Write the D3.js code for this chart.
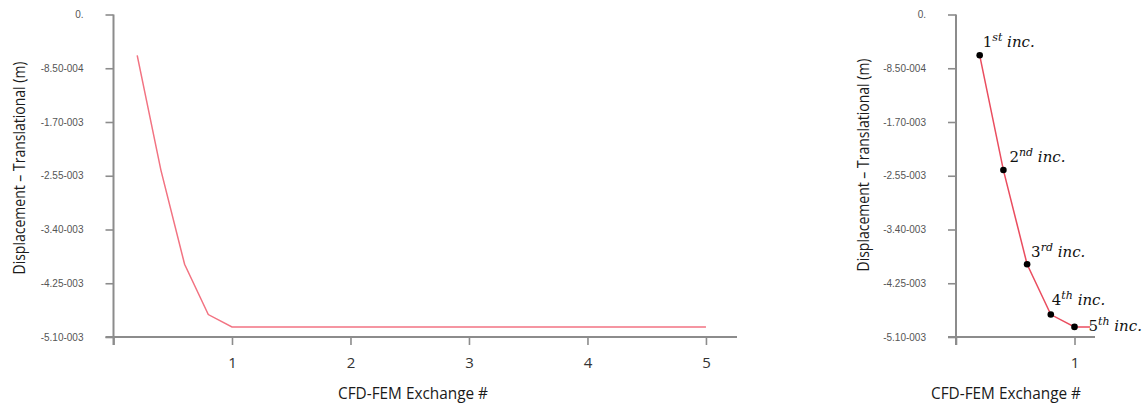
<!DOCTYPE html>
<html>
<head>
<meta charset="utf-8">
<script src="https://cdn.jsdelivr.net/npm/d3@7"></script>
<style>
  html, body { margin: 0; padding: 0; background: #fff; }
  svg { display: block; }
</style>
</head>
<body>
<svg id="chart" width="1143" height="405"></svg>
<script>
// Exchange number and translational displacement (m)
const exchange = [0.2, 0.4, 0.6, 0.8, 1, 2, 3, 4, 5];
const displacement = [-6.45e-4, -2.46e-3, -3.95e-3, -4.745e-3, -4.94e-3, -4.94e-3, -4.94e-3, -4.94e-3, -4.94e-3];

// y-axis tick values and their printed labels
const yTickValues = [0, -8.5e-4, -1.7e-3, -2.55e-3, -3.4e-3, -4.25e-3, -5.1e-3];
const yTickLabels = ["0.", "-8.50-004", "-1.70-003", "-2.55-003", "-3.40-003", "-4.25-003", "-5.10-003"];

// x-axis ticks for each panel
const xTicksFull = [0, 1, 2, 3, 4, 5];
const xTicksZoom = [0, 1];

// Increment annotations (ordinal number, superscript suffix)
const incNumbers = ["1", "2", "3", "4", "5"];
const incSuffixes = ["st", "nd", "rd", "th", "th"];

const yTitle = "Displacement \u2013 Translational (m)";
const xTitle = "CFD-FEM Exchange #";

const svg = d3.select("#chart");
const axisColor = "#8c8c8c";
const tickLen = 8;

const y = d3.scaleLinear().domain([-5.1e-3, 0]).range([337, 14.5]);
const tickLabelOf = v => yTickLabels[yTickValues.indexOf(v)];

function panel(cfg) {
  const g = svg.append("g");
  const x = d3.scaleLinear().domain([0, cfg.xMax]).range([cfg.x0, cfg.x1]);
  const x0 = x(0), yb = y(-5.1e-3);

  // y axis
  const yAxis = d3.axisLeft(y).tickValues(yTickValues).tickFormat(tickLabelOf)
    .tickSize(tickLen).tickPadding(22).tickSizeOuter(0);
  const ya = g.append("g").attr("transform", `translate(${x0},0)`).call(yAxis);
  ya.select(".domain").remove();
  ya.selectAll(".tick line").attr("stroke", axisColor).attr("stroke-width", 1.6);
  ya.selectAll(".tick text")
    .attr("fill", "#555")
    .style("font-family", "'Liberation Sans Narrow', 'Arial Narrow', 'Liberation Sans', sans-serif")
    .style("font-size", "10px");

  // x axis
  const xAxis = d3.axisBottom(x).tickValues(cfg.xTicks)
    .tickFormat(d => d === 0 ? "" : d3.format("d")(d))
    .tickSize(tickLen).tickPadding(12).tickSizeOuter(0);
  const xa = g.append("g").attr("transform", `translate(0,${yb})`).call(xAxis);
  xa.select(".domain").remove();
  xa.selectAll(".tick line").attr("stroke", axisColor).attr("stroke-width", 1.6);
  xa.selectAll(".tick text")
    .attr("fill", "#333")
    .style("font-family", "'Open Sans', sans-serif")
    .style("font-size", "15px");

  // axis lines
  g.append("line").attr("x1", x0).attr("x2", x0).attr("y1", y(0)).attr("y2", yb + tickLen)
    .attr("stroke", axisColor).attr("stroke-width", 2);
  g.append("line").attr("x1", x0 - tickLen).attr("x2", x(cfg.xMax)).attr("y1", yb).attr("y2", yb)
    .attr("stroke", axisColor).attr("stroke-width", 2);

  // data line
  const clipId = "clip" + cfg.id;
  svg.append("clipPath").attr("id", clipId).append("rect")
    .attr("x", x0).attr("y", 0).attr("width", x(cfg.clipX) - x0).attr("height", yb);
  const line = d3.line().x(d => x(d[0])).y(d => y(d[1]));
  g.append("path")
    .datum(d3.zip(exchange, displacement))
    .attr("d", line)
    .attr("fill", "none")
    .attr("stroke", cfg.lineColor)
    .attr("stroke-width", 1.5)
    .attr("clip-path", `url(#${clipId})`);

  // titles
  g.append("text")
    .attr("transform", `translate(${cfg.yTitleX},${cfg.yTitleY}) rotate(-90)`)
    .attr("text-anchor", "middle")
    .attr("fill", "#1a1a1a")
    .attr("textLength", 213).attr("lengthAdjust", "spacingAndGlyphs")
    .style("font-family", "'Open Sans', sans-serif").style("font-size", "16.5px")
    .text(yTitle);
  g.append("text")
    .attr("x", cfg.xTitleX).attr("y", 399)
    .attr("text-anchor", "middle")
    .attr("fill", "#1a1a1a")
    .attr("textLength", 150).attr("lengthAdjust", "spacingAndGlyphs")
    .style("font-family", "'Open Sans', sans-serif").style("font-size", "16px")
    .text(xTitle);

  return { g, x };
}

panel({ id: "A", x0: 113.5, x1: 737, xMax: 5.262, xTicks: xTicksFull, clipX: 5.262,
        lineColor: "#f27382", yTitleX: 25, yTitleY: 168, xTitleX: 413 });

const right = panel({ id: "B", x0: 956, x1: 1095, xMax: 1.173, xTicks: xTicksZoom, clipX: 1.13,
        lineColor: "#ea4d5f", yTitleX: 869, yTitleY: 165, xTitleX: 1006 });

// increment markers and labels on the zoomed panel
const labelOffsets = [[3, -8], [6, -8], [4, -7.5], [1, -10], [14, 4]];
const incIdx = d3.range(incNumbers.length);
const rx = right.x;

right.g.selectAll("circle.inc").data(incIdx).join("circle")
  .attr("class", "inc")
  .attr("cx", i => rx(exchange[i]))
  .attr("cy", i => y(displacement[i]))
  .attr("r", 3.3)
  .attr("fill", "#000");

const lab = right.g.selectAll("text.inc").data(incIdx).join("text")
  .attr("class", "inc")
  .attr("x", i => rx(exchange[i]) + labelOffsets[i][0])
  .attr("y", i => y(displacement[i]) + labelOffsets[i][1])
  .attr("fill", "#111")
  .style("font-family", "'DejaVu Serif', 'Liberation Serif', serif")
  .style("font-size", "15px");
lab.append("tspan").text(i => incNumbers[i]);
lab.append("tspan").attr("dy", -6).style("font-size", "11px").style("font-style", "italic")
  .text(i => incSuffixes[i]);
lab.append("tspan").attr("dy", 6).style("font-style", "italic").text(" inc.");
</script>
</body>
</html>
